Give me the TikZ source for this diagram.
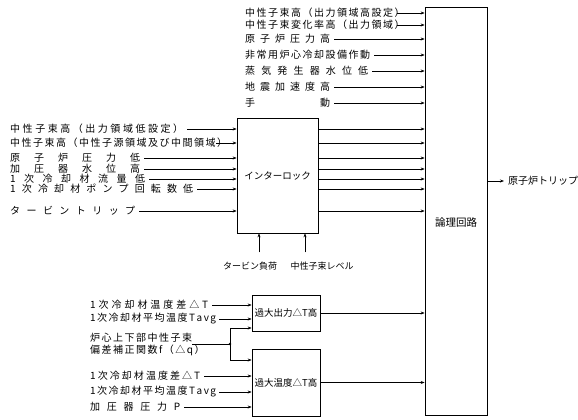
\documentclass[tikz,border=0pt]{standalone}
\usepackage{fontspec}
\setmainfont{Noto Sans CJK JP}
\usetikzlibrary{arrows.meta,calc}
\newcommand{\spreadtext}[2]{\makebox[#1][s]{#2}}

\begin{document}
\begin{tikzpicture}[x=1pt,y=-1pt,
  lbl/.style={anchor=west,inner xsep=4pt,inner ysep=1pt,font=\fontsize{10}{12}\selectfont},
  blk/.style={draw,line width=0.7pt,inner sep=0pt,font=\fontsize{9.5}{11}\selectfont},
  arr/.style={-{Stealth[length=4pt,width=3pt]},line width=0.6pt},
  wire/.style={line width=0.6pt}]
  \useasboundingbox (0,0) rectangle (578,420);
  % blocks
  \node[blk,minimum width=62pt,minimum height=408pt,
    label={[yshift=-11pt,font=\fontsize{10.5}{12}\selectfont]center:論理回路}] (logic) at (456,211) {};
  \node[blk,minimum width=81pt,minimum height=115pt] (ilock) at (277.5,175.5) {インターロック};
  \node[blk,minimum width=68pt,minimum height=36pt] (otdp) at (286,313) {過大出力△T高};
  \node[blk,minimum width=68pt,minimum height=67pt] (ottt) at (286,382.5) {過大温度△T高};

  % direct inputs to logic
  \node[lbl] (t1) at (241,13) {\spreadtext{148pt}{中 性 子 束 高 （ 出 力 領 域 高 設 定 ）}};
  \node[lbl] (t2) at (241,25) {\spreadtext{148pt}{中 性 子 束 変 化 率 高 （ 出 力 領 域 ）}};
  \node[lbl] (t3) at (241,39) {\spreadtext{85pt}{原 子 炉 圧 力 高}};
  \node[lbl] (t4) at (241,55) {\spreadtext{125pt}{非 常 用 炉 心 冷 却 設 備 作 動}};
  \node[lbl] (t5) at (241,71) {\spreadtext{123pt}{蒸 気 発 生 器 水 位 低}};
  \node[lbl] (t6) at (241,87) {\spreadtext{85pt}{地 震 加 速 度 高}};
  \node[lbl] (t7) at (241,103) {\spreadtext{85pt}{手 動}};
  \foreach \n in {t1,t2,t3,t4,t5,t6,t7}
    \draw[arr] (\n.east) -- (\n.east -| logic.west);

  % inputs through interlock
  \node[lbl] (l1) at (6,129) {\spreadtext{173pt}{中 性 子 束 高 （ 出 力 領 域 低 設 定 ）}};
  \node[lbl] (l2) at (6,143) {\spreadtext{202pt}{中 性 子 束 高 （ 中 性 子 源 領 域 及 び 中 間 領 域 ）}};
  \node[lbl] (l3) at (6,158) {\spreadtext{130pt}{原 子 炉 圧 力 低}};
  \node[lbl] (l4) at (6,169) {\spreadtext{130pt}{加 圧 器 水 位 高}};
  \node[lbl] (l5) at (6,179) {\spreadtext{135pt}{1 次 冷 却 材 流 量 低}};
  \node[lbl] (l6) at (6,189) {\spreadtext{183pt}{1 次 冷 却 材 ポ ン プ 回 転 数 低}};
  \node[lbl] (l7) at (6,211) {\spreadtext{125pt}{タ ー ビ ン ト リ ッ プ}};
  \foreach \n in {l1,l2,l3,l4,l5,l6,l7} {
    \draw[arr] (\n.east) -- (\n.east -| ilock.west);
    \draw[arr] (\n.east -| ilock.east) -- (\n.east -| logic.west);
  }
  \node[font=\fontsize{9}{11}\selectfont] (tload) at (250,266) {タービン負荷};
  \node[font=\fontsize{9}{11}\selectfont] (nlev) at (322,266) {中性子束レベル};
  \draw[arr] ([xshift=9pt,yshift=6pt]tload.north) -- ([xshift=9pt]tload.north |- ilock.south);
  \draw[arr] ([xshift=-17pt,yshift=6pt]nlev.north) -- ([xshift=-17pt]nlev.north |- ilock.south);

  % over power / over temperature delta T
  \node[lbl] (b1) at (86,305) {\spreadtext{118pt}{1 次 冷 却 材 温 度 差 △ T}};
  \node[lbl] (b2) at (86,319) {\spreadtext{125pt}{1 次 冷 却 材 平 均 温 度 T a v g}};
  \node[lbl,align=left] (b3) at (86,344) {\spreadtext{98pt}{炉 心 上 下 部 中 性 子 束}\\
    \spreadtext{93pt}{偏 差 補 正 関 数 f （ △ q ）}};
  \node[lbl] (b4) at (86,376) {\spreadtext{110pt}{1 次 冷 却 材 温 度 差 △ T}};
  \node[lbl] (b5) at (86,392) {\spreadtext{125pt}{1 次 冷 却 材 平 均 温 度 T a v g}};
  \node[lbl] (b6) at (86,407) {\spreadtext{90pt}{加 圧 器 圧 力 P}};
  \draw[arr] (b1.east) -- (b1.east -| otdp.west);
  \draw[arr] (b2.east) -- (b2.east -| otdp.west);
  \coordinate (jn) at (230,344);
  \draw[wire] (b3.east) -- (jn);
  \fill (jn) circle (1.3pt);
  \draw[arr] (jn) |- ($(otdp.west)+(0,15)$);
  \draw[arr] (jn) |- ($(ottt.west)+(0,-22.5)$);
  \foreach \n in {b4,b5,b6}
    \draw[arr] (\n.east) -- (\n.east -| ottt.west);
  \draw[arr] (otdp.east) -- (otdp.east -| logic.west);
  \draw[arr] (ottt.east) -- (ottt.east -| logic.west);

  % output
  \node[lbl,font=\fontsize{10}{12}\selectfont] (trip) at (504,181) {原子炉トリップ};
  \draw[arr] (logic.east |- trip.west) -- (trip.west);
\end{tikzpicture}
\end{document}
